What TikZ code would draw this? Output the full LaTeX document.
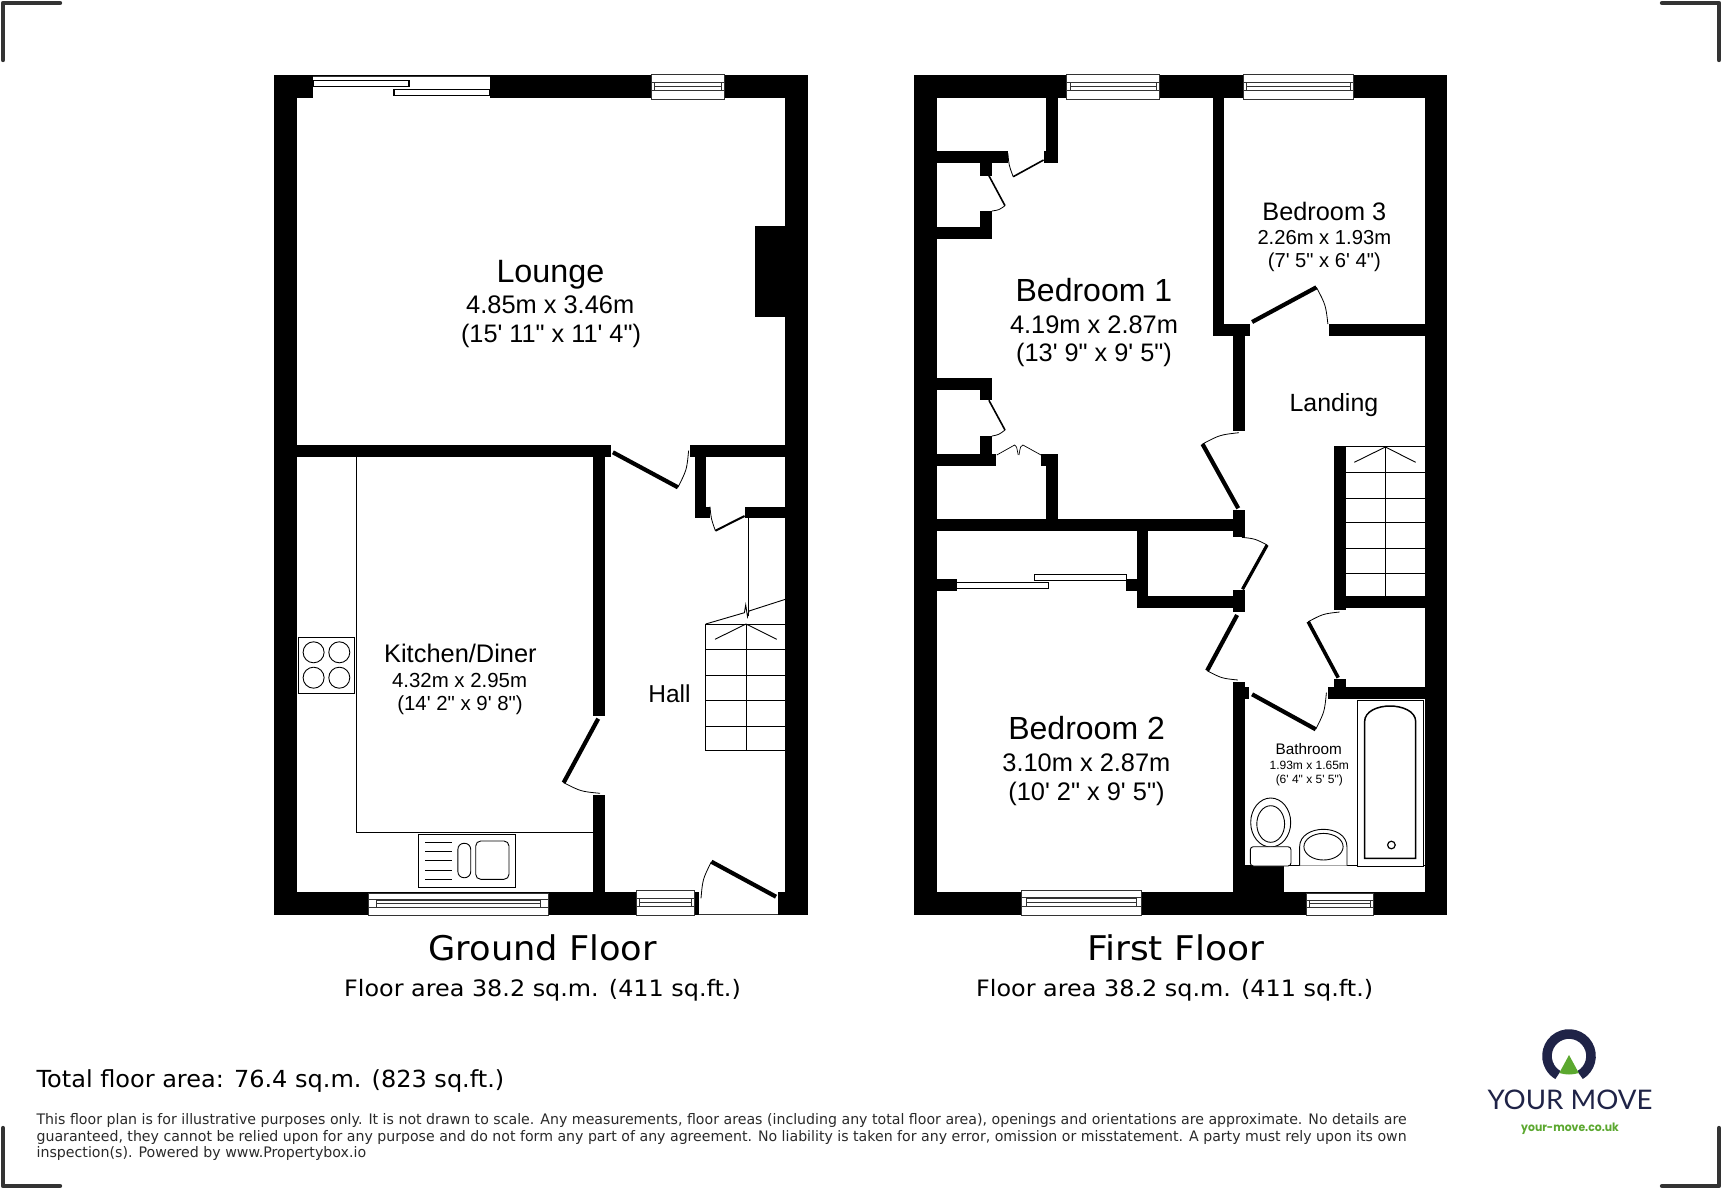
\documentclass[tikz,border=0pt]{standalone}
\usepackage{fontspec}
\newfontfamily\rf{Liberation Sans}
\newfontfamily\vf{DejaVu Sans}
\newfontfamily\lf{Lato}
\newfontfamily\pf{Poppins}
\definecolor{navy}{HTML}{1F2347}
\definecolor{lgreen}{HTML}{5BA82F}
\definecolor{markgrey}{HTML}{333333}
\definecolor{foot}{HTML}{2A2A2A}
\tikzset{
  wallfill/.style={fill=black},
  thinline/.style={draw=black,line width=0.9pt},
  fixture/.style={draw=black,line width=0.9pt,fill=white},
  labelc/.style={anchor=base,inner sep=0pt,text=black},
  labell/.style={anchor=base west,inner sep=0pt},
  cropmark/.style={draw=markgrey,line width=4.4pt,line cap=round,line join=round}
}
\newcommand\wl[4]{\fill[wallfill] (#1,#2) rectangle (#3,#4);}
\newcommand\wh[4]{\fill[white] (#1,#2) rectangle (#3,#4);}
% window: x1 y1 x2 y2 inset
\newcommand\wnd[5]{%
  \draw[fill=white,draw=markgrey,line width=1pt] (#1,#2) rectangle (#3,#4);
  \draw[draw=markgrey,line width=1pt] (#1,{#2+(#4-#2)*0.31}) -- (#3,{#2+(#4-#2)*0.31});
  \draw[draw=markgrey,line width=1pt] (#1,{#2+(#4-#2)*0.66}) -- (#3,{#2+(#4-#2)*0.66});
  \draw[draw=markgrey,line width=0.6pt] ({#1+#5},{#2+(#4-#2)*0.31}) rectangle ({#3-#5},{#2+(#4-#2)*0.66});
  \draw[draw=markgrey,line width=0.6pt] ({#1+#5},{#2+(#4-#2)*0.47}) -- ({#3-#5},{#2+(#4-#2)*0.47});
}
% door: hinge tip end leafwidth
\newcommand\dr[7]{%
  \draw[line width=#7pt] (#1,#2) -- (#3,#4);
  \draw[line width=0.8pt] (#3,#4) .. controls ({#1+((#3+#5)/2-#1)*1.05},{#2+((#4+#6)/2-#2)*1.05}) .. (#5,#6);
}
\newcommand\lab[5]{\node[labelc] (#1) at (#2,#3) {\fontsize{#4}{#4}\selectfont\rf #5};}
\newcommand\fitw[2]{\setbox0=\hbox{#2}\pgfmathsetmacro\myratio{#1/\the\wd0}\scalebox{\myratio}[1]{#2}}
\newcommand\vl[7]{\node[labell,text=#7] (#1) at (#2,#3) {\fontsize{#4}{#4}\selectfont\vf\fitw{#5}{#6}};}
\begin{document}
\begin{tikzpicture}[x=1pt,y=-1pt]
\useasboundingbox (0,0) rectangle (1722,1189);
\fill[white] (0,0) rectangle (1722,1189);

% ---------- crop marks
\draw[cropmark] (3,60) -- (3,3) -- (60,3);
\draw[cropmark] (1662,3) -- (1719,3) -- (1719,60);
\draw[cropmark] (3,1128) -- (3,1186) -- (60,1186);
\draw[cropmark] (1662,1186) -- (1719,1186) -- (1719,1128);

% ---------- GROUND FLOOR walls
\wl{274.3}{74.7}{808.2}{97.7}
\wl{274.3}{74.7}{297.1}{915}
\wl{785.4}{74.7}{808.2}{915}
\wl{274.3}{892.3}{808.2}{915}
\wl{755}{225.7}{785.4}{317.3}
\wl{297.1}{445.3}{611}{457.3}
\wl{690.4}{445.3}{785.4}{457.3}
\wl{593.2}{457}{605.4}{716.3}
\wl{593.2}{795.3}{605.4}{892.3}
\wl{694.6}{457}{706.4}{517.7}
\wl{694.6}{506.7}{710}{517.7}
\wl{744.6}{506.7}{785.4}{517.7}
% sliding door opening
\wh{312.9}{76.5}{490}{98}
\draw[draw=markgrey,line width=0.8pt] (312.9,76) -- (490,76);
\draw[line width=1.3pt,fill=white] (312.9,80.7) rectangle (409,86.7);
\draw[line width=1.3pt,fill=white] (394,89.3) rectangle (489.6,95.3);
% entrance opening
\wh{698.6}{892}{777.9}{913.6}
\draw[draw=markgrey,line width=0.8pt] (698.6,914) -- (777.9,914);
% windows
\wnd{651}{74.7}{724.3}{99}{3.2}
\wnd{368.6}{893}{548.6}{915}{8}
\wnd{636.4}{890.7}{694.6}{915}{3.2}
% doors
\dr{612.9}{452.3}{677.9}{487.3}{688.6}{450.7}{4.2}
\dr{598.2}{718.7}{563.6}{782.7}{600}{793.3}{4.2}
\dr{776}{896.7}{711.4}{861.7}{701}{898.3}{4.2}
\dr{744.6}{516}{715.4}{530.7}{710}{506.7}{2}
% stairs
\draw[thinline] (748.6,517) -- (748.6,616);
\draw[thinline] (705.7,624) -- (744.4,612.7) -- (745.7,605) -- (747.5,616.7) -- (749,611) -- (785.4,599.3);
\draw[thinline] (705.7,624) rectangle (785.4,750.7);
\foreach \yy in {649.3,675,700.3,726}{\draw[thinline] (705.7,\yy) -- (785.4,\yy);}
\draw[thinline] (746,624) -- (746,750.7);
\draw[thinline] (715,639.3) -- (746,624) -- (776.8,639.3);
% kitchen units
\draw[thinline] (356.8,457) -- (356.8,832.3) -- (593.2,832.3);
\draw[thinline] (298.9,637.3) rectangle (354.3,693);
\foreach \cx in {313.6,339.3}{\foreach \cy in {652.3,677.7}{\draw[thinline] (\cx,\cy) circle[radius=10.5pt];}}
\draw[thinline] (418.2,834.7) rectangle (515.4,887);
\foreach \yy in {842.7,851.7,860.7,870,879.3}{\draw[thinline] (425,\yy) -- (452,\yy);}
\draw[thinline,rounded corners=6pt] (457.9,843.3) rectangle (470.7,877.7);
\draw[thinline,rounded corners=5pt] (475.7,841) rectangle (509,879.3);

% ---------- FIRST FLOOR walls
\wl{913.6}{74.7}{1447.1}{97.7}
\wl{913.6}{74.7}{936.8}{915}
\wl{1424.6}{74.7}{1447.1}{915}
\wl{913.6}{892}{1447.1}{915}
% wardrobes of bedroom 1
\wl{1046}{97.7}{1057.9}{163.3}
\wl{1043.6}{150.7}{1057.9}{163.3}
\wl{936.8}{151.3}{1008.2}{163.3}
\wl{980}{163.3}{992.1}{175.7}
\wl{980}{211}{992.1}{239}
\wl{936.8}{227}{992.1}{239}
\wl{936.8}{377.7}{992.1}{389.7}
\wl{980}{389.7}{992.1}{400.3}
\wl{980}{436}{992.1}{465.7}
\wl{936.8}{453.7}{996}{465.7}
\wl{1040.7}{453.7}{1057.9}{465.7}
\wl{1046}{453.7}{1057.9}{520}
% cross walls
\wl{936.8}{519.3}{1233}{531.3}
\wl{1212.9}{97.7}{1223.9}{336}
\wl{1212.9}{324}{1250}{336}
\wl{1328.9}{324}{1424.6}{336}
\wl{1232.9}{336}{1244.6}{431}
\wl{1232.9}{510}{1244.6}{536.7}
\wl{1334.3}{446}{1346}{610}
\wl{1334.3}{596}{1424.6}{607.7}
\wl{1137.1}{531}{1148.2}{607.7}
\wl{1137.1}{596}{1244.6}{607.7}
\wl{1232.9}{590}{1244.6}{612.3}
\wl{1126.4}{579.3}{1148.2}{591}
\wl{936.8}{579.3}{956.8}{591}
\wl{1232.9}{681.7}{1244.6}{892}
\wl{1232.9}{686.7}{1248.9}{699}
\wl{1327.9}{687}{1424.6}{699}
\wl{1333.6}{679.3}{1346}{699}
\wl{1232.9}{865.7}{1284.3}{915}
% slider in bedroom 2 cupboard
\draw[line width=1.3pt,fill=white] (1034.3,574.7) rectangle (1126.8,580.7);
\draw[line width=1.3pt,fill=white] (956.8,582.7) rectangle (1048.6,588.7);
% windows
\wnd{1066.8}{74.7}{1159.6}{99}{3.2}
\wnd{1243.2}{74.7}{1353.2}{99}{3.2}
\wnd{1021.4}{890.3}{1141.1}{915}{5}
\wnd{1306}{893.3}{1373.2}{915}{3.2}
% doors
\dr{1043.6}{160}{1013.2}{176.7}{1007.9}{153.3}{1.6}
\dr{988.9}{175.7}{1005}{205.7}{992}{211}{1.6}
\dr{988.9}{400.3}{1005}{430}{992}{436}{1.6}
\dr{1252.1}{322}{1316.4}{287.3}{1327.9}{324}{4.2}
\dr{1238.2}{508.3}{1202.5}{444}{1238.9}{432.7}{4.2}
\dr{1242.5}{589.3}{1267.1}{545}{1241.8}{537.3}{3.2}
\dr{1237.1}{615}{1207.1}{670.7}{1237.9}{680}{4.2}
\dr{1252.1}{694.3}{1315.7}{729.3}{1326.4}{692.7}{4.2}
\dr{1338.2}{677.7}{1308.2}{621.7}{1339.6}{612}{3.6}
% double wardrobe door
\draw[line width=0.7pt] (996.8,455) -- (1014.6,445) .. controls (1016.5,446) .. (1018.2,455);
\draw[line width=0.7pt] (1041,455) -- (1022.9,445) .. controls (1020.5,446) .. (1019,455);
% stairs
\draw[thinline] (1346,446.7) -- (1424.6,446.7);
\foreach \yy in {472.3,498,522.7,548.3,573.7}{\draw[thinline] (1346,\yy) -- (1424.6,\yy);}
\draw[thinline] (1385.4,446.7) -- (1385.4,596);
\draw[thinline] (1354.3,462.3) -- (1385.4,447) -- (1415.7,462.3);
% bathroom
\draw[thinline] (1244.6,865.7) -- (1424.6,865.7);
\draw[fixture] (1357.5,700.7) rectangle (1423.2,866.7);
\draw[line width=1.5pt] (1364.6,858.3) -- (1364.6,721.7) .. controls (1364.6,711) and (1378,706) .. (1390,706) .. controls (1402,706) and (1415.7,711) .. (1415.7,721.7) -- (1415.7,858.3) -- cycle;
\draw[line width=1.2pt] (1391.4,845) circle[radius=3.8pt];
\draw[fixture] (1270.7,822.5) ellipse[x radius=20pt,y radius=24.5pt];
\draw[thinline] (1270.7,824) ellipse[x radius=13.9pt,y radius=18.3pt];
\draw[fixture,rounded corners=3pt] (1250.3,846.7) rectangle (1291,866);
\draw[fixture] (1299.6,865.7) -- (1299.6,847) .. controls (1299.6,835) and (1312,829.3) .. (1323.3,829.3) .. controls (1335,829.3) and (1347,835) .. (1347,847) -- (1347,865.7);
\draw[thinline] (1323.5,846.7) ellipse[x radius=19.6pt,y radius=13.3pt];

% ---------- room labels
\lab{lng}{550.4}{282.7}{32.3}{Lounge}
\lab{lnga}{550.2}{313.3}{25.4}{4.85m x 3.46m}
\lab{lngb}{551}{342.7}{25.3}{(15' 11" x 11' 4")}
\lab{kit}{460.4}{662.7}{25.4}{Kitchen/Diner}
\lab{kita}{459.6}{687.7}{20.4}{4.32m x 2.95m}
\lab{kitb}{460}{710.7}{20.4}{(14' 2" x 9' 8")}
\lab{hal}{669.5}{702.3}{24.5}{Hall}
\lab{bone}{1093.9}{301.7}{32}{Bedroom 1}
\lab{bonea}{1094}{333.3}{25.4}{4.19m x 2.87m}
\lab{boneb}{1094}{361.7}{25.3}{(13' 9" x 9' 5")}
\lab{bth}{1324.3}{220}{25.3}{Bedroom 3}
\lab{btha}{1324.3}{244}{20.2}{2.26m x 1.93m}
\lab{bthb}{1324.3}{267.3}{20.2}{(7' 5" x 6' 4")}
\lab{lan}{1333.9}{411.3}{24.9}{Landing}
\lab{btw}{1086.6}{739.7}{32}{Bedroom 2}
\lab{btwa}{1086.4}{771}{25.4}{3.10m x 2.87m}
\lab{btwb}{1086.4}{800}{25.4}{(10' 2" x 9' 5")}
\lab{bat}{1308.8}{754}{15.3}{Bathroom}
\lab{bata}{1309.3}{769.3}{12}{1.93m x 1.65m}
\lab{batb}{1309.3}{783.3}{12}{(6' 4" x 5' 5")}

% ---------- titles
\vl{gf}{428.3}{960.7}{34}{228.3}{Ground Floor}{black}
\vl{gfa}{344}{996.7}{22.6}{396.7}{Floor area 38.2 sq.m. (411 sq.ft.)}{black}
\vl{ff}{1087}{960.7}{34}{177}{First Floor}{black}
\vl{ffa}{976}{996.7}{22.6}{397}{Floor area 38.2 sq.m. (411 sq.ft.)}{black}
\vl{tot}{36.4}{1087.3}{23.5}{467.7}{Total floor area: 76.4 sq.m. (823 sq.ft.)}{black}
\vl{fa}{36.4}{1124}{14.5}{1370}{This floor plan is for illustrative purposes only. It is not drawn to scale. Any measurements, floor areas (including any total floor area), openings and orientations are approximate. No details are}{foot}
\vl{fb}{36.4}{1141}{14.5}{1370}{guaranteed, they cannot be relied upon for any purpose and do not form any part of any agreement. No liability is taken for any error, omission or misstatement. A party must rely upon its own}{foot}
\vl{fc}{36.4}{1157.7}{14.5}{329.6}{inspection(s). Powered by www.Propertybox.io}{foot}

% ---------- logo
\draw[navy,line width=9.6pt] (1569,1056) ++(-60:22pt) arc[start angle=-60,end angle=240,radius=22pt];
\fill[lgreen] (1569,1055) -- (1578.8,1073) .. controls (1572,1075) and (1566,1075) .. (1559.3,1073) -- cycle;
\node[labell,text=navy] (ym) at (1487.3,1109.3) {\fontsize{27}{27}\selectfont\lf\fitw{165}{YOUR MOVE}};
\node[labell,text=lgreen] (ymu) at (1521,1131.7) {\fontsize{11.5}{11.5}\selectfont\pf\bfseries\fitw{97.7}{your-move.co.uk}};
\end{tikzpicture}
\end{document}
